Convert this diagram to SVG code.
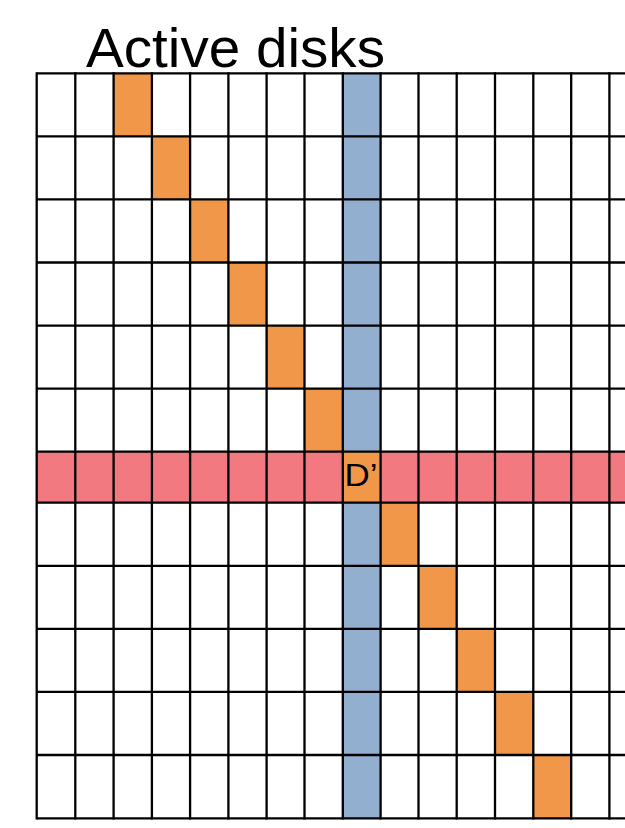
<svg xmlns="http://www.w3.org/2000/svg" width="625" height="828" viewBox="0 0 625 828">
<style>
.or{fill:#F0974A}
.bl{fill:#93AFCF}
.pk{fill:#F27980}
.g{stroke:#000;stroke-width:2.3;fill:none}
.t{font-family:"Liberation Sans",Arial,sans-serif;fill:#000}
</style>
<rect width="625" height="828" fill="#fff"/>
<text class="t" x="86" y="66.5" font-size="56" textLength="299" lengthAdjust="spacingAndGlyphs">Active disks</text>
<g id="fills">
<rect class="pk" x="36.7" y="451.7" width="588.3" height="51"/>
<rect class="bl" x="342.8" y="73.3" width="37.8" height="378.4"/>
<rect class="bl" x="342.8" y="502.7" width="37.8" height="315.6"/>
<rect class="or" x="113.6" y="73.3" width="38.3" height="63.1"/>
<rect class="or" x="151.9" y="136.4" width="38.2" height="63"/>
<rect class="or" x="190.1" y="199.4" width="38.3" height="63.1"/>
<rect class="or" x="228.4" y="262.5" width="38.2" height="63.1"/>
<rect class="or" x="266.6" y="325.6" width="37.9" height="63"/>
<rect class="or" x="304.5" y="388.6" width="38.3" height="63.1"/>
<rect class="or" x="342.8" y="451.7" width="37.8" height="51"/>
<rect class="or" x="380.6" y="502.7" width="37.9" height="63.1"/>
<rect class="or" x="418.5" y="565.8" width="38.2" height="63.1"/>
<rect class="or" x="456.7" y="628.9" width="38.3" height="63"/>
<rect class="or" x="495" y="691.9" width="38.3" height="63.1"/>
<rect class="or" x="533.3" y="755" width="37.9" height="63.3"/>
</g>
<g id="grid" class="g">
<path d="M36.7 73.3H625M36.7 136.4H625M36.7 199.4H625M36.7 262.5H625M36.7 325.6H625M36.7 388.6H625M36.7 451.7H625M36.7 502.7H625M36.7 565.8H625M36.7 628.9H625M36.7 691.9H625M36.7 755H625M36.7 818.3H625"/>
<path d="M36.7 72.2V819.4M75.3 72.2V819.4M113.6 72.2V819.4M151.9 72.2V819.4M190.1 72.2V819.4M228.4 72.2V819.4M266.6 72.2V819.4M304.5 72.2V819.4M342.8 72.2V819.4M380.6 72.2V819.4M418.5 72.2V819.4M456.7 72.2V819.4M495 72.2V819.4M533.3 72.2V819.4M571.2 72.2V819.4M609.4 72.2V819.4"/>
</g>
<text class="t" x="344.5" y="485.5" font-size="32" textLength="33" lengthAdjust="spacingAndGlyphs">D’</text>
</svg>
